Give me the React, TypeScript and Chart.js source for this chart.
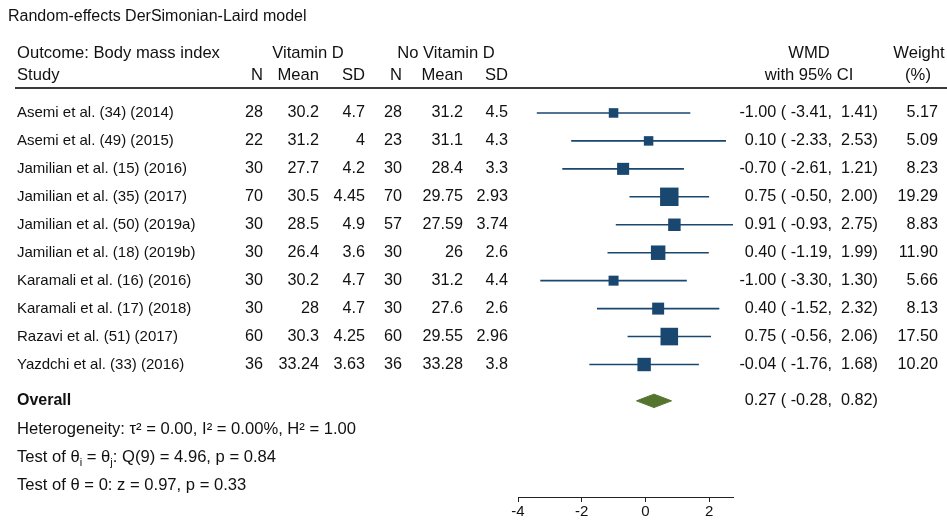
import React, { useEffect, useRef } from "react";
import { Chart, registerables } from "chart.js";

Chart.register(...registerables);

// ---------- data ----------
const studies = [
  "Asemi et al. (34) (2014)",
  "Asemi et al. (49) (2015)",
  "Jamilian et al. (15) (2016)",
  "Jamilian et al. (35) (2017)",
  "Jamilian et al. (50) (2019a)",
  "Jamilian et al. (18) (2019b)",
  "Karamali et al. (16) (2016)",
  "Karamali et al. (17) (2018)",
  "Razavi et al. (51) (2017)",
  "Yazdchi et al. (33) (2016)",
];
const nVitD = [28, 22, 30, 70, 30, 30, 30, 30, 60, 36];
const meanVitD = [30.2, 31.2, 27.7, 30.5, 28.5, 26.4, 30.2, 28, 30.3, 33.24];
const sdVitD = [4.7, 4, 4.2, 4.45, 4.9, 3.6, 4.7, 4.7, 4.25, 3.63];
const nNoVitD = [28, 23, 30, 70, 57, 30, 30, 30, 60, 36];
const meanNoVitD = [31.2, 31.1, 28.4, 29.75, 27.59, 26, 31.2, 27.6, 29.55, 33.28];
const sdNoVitD = [4.5, 4.3, 3.3, 2.93, 3.74, 2.6, 4.4, 2.6, 2.96, 3.8];
const wmd = [-1.0, 0.1, -0.7, 0.75, 0.91, 0.4, -1.0, 0.4, 0.75, -0.04];
const ciLow = [-3.41, -2.33, -2.61, -0.5, -0.93, -1.19, -3.3, -1.52, -0.56, -1.76];
const ciHigh = [1.41, 2.53, 1.21, 2.0, 2.75, 1.99, 1.3, 2.32, 2.06, 1.68];
const weights = [5.17, 5.09, 8.23, 19.29, 8.83, 11.9, 5.66, 8.13, 17.5, 10.2];
const overallEst = [0.27];
const overallLow = [-0.28];
const overallHigh = [0.82];
const xTicks = [-4, -2, 0, 2];

const titleText = "Random-effects DerSimonian-Laird model";
const outcomeText = "Outcome: Body mass index";
const heterogeneityText = "Heterogeneity: \u03C4\u00B2 = 0.00, I\u00B2 = 0.00%, H\u00B2 = 1.00";
const testQText = ": Q(9) = 4.96, p = 0.84";
const testZText = "Test of \u03B8 = 0: z = 0.97, p = 0.33";

// ---------- layout / style ----------
const W = 947;
const H = 525;
const FONT = '"Liberation Sans", Arial, Helvetica, sans-serif';
const NAVY = "#1a476f";
const GREEN = "#55752f";
const TEXT = "#111111";
const OVERALL_ROW = 10.3;
const STAT_ROWS = [11.33, 12.33, 13.33];
const DIAMOND_HALF = 0.24;

const fmt = (v: number) => v.toFixed(2);
const padNum = (v: number) => (v < 0 ? " " + fmt(v) : "  " + fmt(v));
const ciText = (e: number, l: number, h: number) =>
  `${fmt(e)} (${padNum(l)},${padNum(h)})`;

const font = (size: number, bold = false) => `${bold ? "bold " : ""}${size}px ${FONT}`;

const textPlugin = {
  id: "forestText",
  afterDraw(chart: any) {
    const ctx = chart.ctx as CanvasRenderingContext2D;
    const ys = chart.scales.y;
    ctx.save();
    ctx.fillStyle = TEXT;
    ctx.textBaseline = "middle";

    // title
    ctx.textAlign = "left";
    ctx.font = font(16);
    ctx.fillText(titleText, 8, 17);

    // headers
    ctx.font = font(16.6);
    ctx.fillText(outcomeText, 17, 53);
    ctx.fillText("Study", 17, 75);
    ctx.textAlign = "center";
    ctx.fillText("Vitamin D", 308, 53);
    ctx.fillText("No Vitamin D", 446, 53);
    ctx.fillText("WMD", 809, 53);
    ctx.fillText("with 95% CI", 809, 75);
    ctx.fillText("Weight", 919, 53);
    ctx.fillText("(%)", 918, 75);
    ctx.textAlign = "right";
    const cols = [263, 319, 365, 402, 463, 508];
    const subHeads = ["N", "Mean", "SD", "N", "Mean", "SD"];
    subHeads.forEach((s, k) => ctx.fillText(s, cols[k], 75));

    // header rule
    ctx.strokeStyle = "#3a3a3a";
    ctx.lineWidth = 2;
    ctx.beginPath();
    ctx.moveTo(15, 88);
    ctx.lineTo(W, 88);
    ctx.stroke();

    // study rows
    studies.forEach((s, i) => {
      const y = ys.getPixelForValue(i);
      ctx.textAlign = "left";
      ctx.font = font(15);
      ctx.fillText(s, 17, y);
      ctx.textAlign = "right";
      ctx.font = font(16.2);
      const vals = [nVitD[i], meanVitD[i], sdVitD[i], nNoVitD[i], meanNoVitD[i], sdNoVitD[i]];
      vals.forEach((v, k) => ctx.fillText(String(v), cols[k], y));
      ctx.fillText(ciText(wmd[i], ciLow[i], ciHigh[i]), 878, y);
      ctx.fillText(fmt(weights[i]), 938, y);
    });

    // overall
    const yo = ys.getPixelForValue(OVERALL_ROW);
    ctx.textAlign = "left";
    ctx.font = font(16, true);
    ctx.fillText("Overall", 17, yo);
    ctx.textAlign = "right";
    ctx.font = font(16.2);
    ctx.fillText(ciText(overallEst[0], overallLow[0], overallHigh[0]), 878, yo);

    // stats
    const SZ = 16.6;
    ctx.textAlign = "left";
    ctx.font = font(SZ);
    ctx.fillText(heterogeneityText, 17, ys.getPixelForValue(STAT_ROWS[0]));
    const yq = ys.getPixelForValue(STAT_ROWS[1]);
    let x = 17;
    const seg = (t: string, size: number, dy: number) => {
      ctx.font = font(size);
      ctx.fillText(t, x, yq + dy);
      x += ctx.measureText(t).width;
    };
    seg("Test of \u03B8", SZ, 0);
    seg("i", 11, 5);
    seg(" = \u03B8", SZ, 0);
    seg("j", 11, 5);
    seg(testQText, SZ, 0);
    ctx.font = font(SZ);
    ctx.fillText(testZText, 17, ys.getPixelForValue(STAT_ROWS[2]));

    ctx.restore();
  },
};

export default function App() {
  const ref = useRef<HTMLCanvasElement | null>(null);

  useEffect(() => {
    if (!ref.current) return;

    const ciData: any[] = [];
    studies.forEach((_, i) => {
      ciData.push({ x: ciLow[i], y: i });
      ciData.push({ x: ciHigh[i], y: i });
      ciData.push({ x: null, y: null });
    });
    const squares = wmd.map((v, i) => ({ x: v, y: i }));
    const radii = weights.map((w) => (4.2 * Math.sqrt(w)) / (2 * Math.SQRT1_2));
    const diamond = [
      { x: overallLow[0], y: OVERALL_ROW },
      { x: overallEst[0], y: OVERALL_ROW - DIAMOND_HALF },
      { x: overallHigh[0], y: OVERALL_ROW },
      { x: overallEst[0], y: OVERALL_ROW + DIAMOND_HALF },
      { x: overallLow[0], y: OVERALL_ROW },
    ];

    const chart = new Chart(ref.current, {
      type: "scatter",
      data: {
        datasets: [
          {
            type: "line",
            data: ciData,
            borderColor: NAVY,
            borderWidth: 1.6,
            pointRadius: 0,
            showLine: true,
            spanGaps: false,
            fill: false,
            order: 2,
          } as any,
          {
            type: "scatter",
            data: squares,
            pointStyle: "rect",
            pointRadius: radii,
            backgroundColor: NAVY,
            borderWidth: 0,
            order: 1,
          } as any,
          {
            type: "line",
            data: diamond,
            borderColor: GREEN,
            backgroundColor: GREEN,
            borderWidth: 1,
            pointRadius: 0,
            showLine: true,
            fill: "shape",
            tension: 0,
            order: 1,
          } as any,
        ],
      },
      options: {
        animation: false,
        responsive: false,
        devicePixelRatio: 1,
        layout: { padding: { left: 518, right: W - 733, top: 85, bottom: 3 } },
        plugins: { legend: { display: false }, tooltip: { enabled: false } },
        scales: {
          x: {
            type: "linear",
            min: -4,
            max: 2.75,
            afterBuildTicks: (axis: any) => {
              axis.ticks = xTicks.map((v) => ({ value: v }));
            },
            ticks: {
              font: { family: FONT, size: 15 },
              color: TEXT,
              padding: 1,
              maxRotation: 0,
              includeBounds: false,
            },
            grid: {
              display: true,
              drawOnChartArea: false,
              drawTicks: true,
              tickLength: 5,
              color: "#222",
            },
            border: { display: true, color: "#222", width: 1 },
          },
          y: {
            type: "linear",
            reverse: true,
            min: -1,
            max: 13.74,
            display: false,
          },
        },
      },
      plugins: [textPlugin],
    } as any);

    return () => chart.destroy();
  }, []);

  return (
    <div style={{ position: "fixed", left: 0, top: 0, width: W, height: H, background: "#fff" }}>
      <canvas ref={ref} width={W} height={H} style={{ width: W, height: H, display: "block" }} />
    </div>
  );
}
